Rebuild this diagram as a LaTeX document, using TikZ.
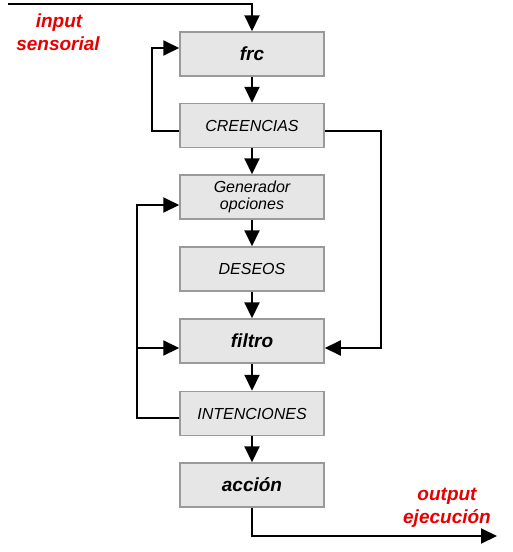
\documentclass[tikz,border=0pt]{standalone}
\usepackage{fontspec}
\setmainfont{Liberation Sans}
\usetikzlibrary{arrows.meta}
\definecolor{boxfill}{HTML}{E6E6E6}
\definecolor{boxline}{HTML}{9A9A9A}
\definecolor{lblred}{HTML}{E80000}
\begin{document}
\begin{tikzpicture}[x=1pt,y=-1pt,
  blk/.style={draw=boxline,fill=boxfill,line width=1.5pt,minimum width=144pt,minimum height=44pt,inner sep=0pt,
    font=\fontsize{16}{17}\selectfont\itshape,align=center},
  bblk/.style={blk,font=\fontsize{19}{20}\selectfont\bfseries\itshape},
  conn/.style={line width=2pt,-{Triangle[length=16pt,width=15pt]}},
  redlbl/.style={text=lblred,font=\fontsize{19}{20}\selectfont\bfseries\itshape,anchor=base,inner sep=0pt}]
\useasboundingbox (0,0) rectangle (513,552);
\node[bblk] (frc) at (252,54) {frc};
\node[blk] (cre) at (252,125.5) {CREENCIAS};
\node[blk] (gen) at (252,197) {Generador\\opciones};
\node[blk] (des) at (252,269) {DESEOS};
\node[bblk] (fil) at (252,341) {filtro};
\node[blk] (int) at (252,413.5) {INTENCIONES};
\node[bblk] (acc) at (252,485) {acción};
\coordinate (instart) at (8,4);
\coordinate (outend) at (497,536);
\node[redlbl] (in1) at (59,27) {input};
\node[redlbl] (in2) at (58,50) {sensorial};
\node[redlbl] (out1) at (447,500) {output};
\node[redlbl] (out2) at (447,523) {ejecución};
% main chain
\draw[conn] (instart) -| (frc.north);
\draw[conn] (frc) -- (cre);
\draw[conn] (cre) -- (gen);
\draw[conn] (gen) -- (des);
\draw[conn] (des) -- (fil);
\draw[conn] (fil) -- (int);
\draw[conn] (int) -- (acc);
\draw[conn] (acc.south) |- (outend);
% CREENCIAS -> frc loop
\draw[conn] (cre.west |- 0,131) -- (152,131) -- (152,48) -- (frc.west |- 0,48);
% CREENCIAS -> filtro
\draw[conn] (cre.east |- 0,131) -- (381,131) -- (381,348) -- (fil.east |- 0,348);
% INTENCIONES -> Generador & filtro
\draw[conn] (int.west |- 0,418) -- (137,418) -- (137,205) -- (gen.west |- 0,205);
\draw[conn] (137,348) -- (fil.west |- 0,348);
\end{tikzpicture}
\end{document}
